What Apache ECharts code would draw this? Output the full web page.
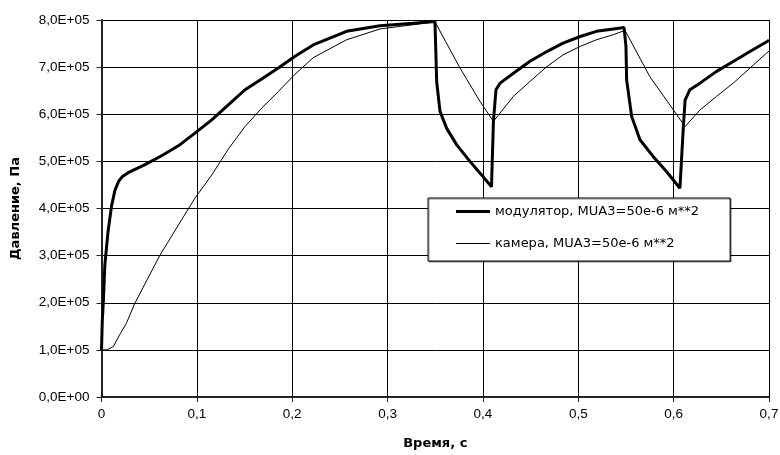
<!DOCTYPE html>
<html>
<head>
<meta charset="utf-8">
<script src="https://cdn.jsdelivr.net/npm/echarts@6/dist/echarts.min.js"></script>
<style>
  html, body { margin: 0; padding: 0; background: #fff; }
  #chart { width: 780px; height: 455px; }
</style>
</head>
<body>
<div id="chart"></div>
<script>
// модулятор (thick line), time in s, pressure in Pa
const modTime = [0, 0.0008, 0.002, 0.0035, 0.0068, 0.0105, 0.014, 0.018, 0.022, 0.028, 0.0456, 0.063, 0.0806, 0.098,
  0.1156, 0.133, 0.1505, 0.168, 0.1854, 0.203, 0.222, 0.257, 0.292, 0.327, 0.3497,
  0.3505, 0.3515, 0.355, 0.362, 0.3725, 0.3864, 0.397, 0.409,
  0.411, 0.4137, 0.418, 0.432, 0.449, 0.467, 0.484, 0.502, 0.519, 0.537, 0.548,
  0.55, 0.5507, 0.556, 0.5647, 0.5787, 0.5927, 0.6066, 0.6084,
  0.61, 0.612, 0.617, 0.6276, 0.645, 0.6625, 0.68, 0.6976, 0.7];
const modPressure = [1.0e5, 1.6e5, 2.05e5, 2.8e5, 3.5e5, 4.05e5, 4.38e5, 4.58e5, 4.68e5, 4.76e5, 4.93e5, 5.12e5, 5.33e5, 5.6e5,
  5.88e5, 6.2e5, 6.52e5, 6.75e5, 6.98e5, 7.23e5, 7.47e5, 7.76e5, 7.88e5, 7.93e5, 7.97e5,
  7.4e5, 6.69e5, 6.06e5, 5.7e5, 5.35e5, 5.0e5, 4.75e5, 4.46e5,
  5.85e5, 6.52e5, 6.66e5, 6.87e5, 7.12e5, 7.33e5, 7.51e5, 7.65e5, 7.76e5, 7.81e5, 7.84e5,
  7.44e5, 6.73e5, 5.95e5, 5.46e5, 5.1e5, 4.78e5, 4.43e5, 4.39e5,
  5.67e5, 6.3e5, 6.52e5, 6.66e5, 6.91e5, 7.12e5, 7.33e5, 7.54e5, 7.57e5];

// камера (thin line)
const camTime = [0, 0.0055, 0.0124, 0.019, 0.026, 0.035, 0.061, 0.084, 0.098, 0.1156, 0.133, 0.1505, 0.168, 0.1854,
  0.203, 0.222, 0.257, 0.292, 0.327, 0.3497, 0.376, 0.397, 0.411,
  0.432, 0.449, 0.467, 0.484, 0.502, 0.519, 0.537, 0.549, 0.575, 0.612,
  0.6276, 0.645, 0.6625, 0.68, 0.6976, 0.7];
const camPressure = [1.0e5, 1.0e5, 1.07e5, 1.32e5, 1.56e5, 1.99e5, 3.0e5, 3.76e5, 4.22e5, 4.71e5, 5.26e5, 5.74e5, 6.13e5, 6.48e5,
  6.85e5, 7.2e5, 7.58e5, 7.81e5, 7.9e5, 7.96e5, 6.98e5, 6.27e5, 5.85e5,
  6.38e5, 6.69e5, 7.01e5, 7.26e5, 7.44e5, 7.58e5, 7.69e5, 7.78e5, 6.8e5, 5.74e5,
  6.09e5, 6.38e5, 6.66e5, 6.98e5, 7.3e5, 7.34e5];

const yTickLabels = ["0,0E+00", "1,0E+05", "2,0E+05", "3,0E+05", "4,0E+05", "5,0E+05", "6,0E+05", "7,0E+05", "8,0E+05"];
const xTickLabels = ["0", "0,1", "0,2", "0,3", "0,4", "0,5", "0,6", "0,7"];

const seriesNames = ["модулятор, MUA3=50e-6 м**2", "камера, MUA3=50e-6 м**2"];

const zip = (xs, ys) => xs.map((x, i) => [x, ys[i]]);

const chart = echarts.init(document.getElementById("chart"));

chart.setOption({
  animation: false,
  backgroundColor: "#fff",
  textStyle: { fontFamily: "Liberation Sans, Arial, sans-serif", color: "#000" },
  grid: { left: 101.5, right: 11, top: 20, bottom: 58, outerBoundsMode: "none" },
  legend: {
    orient: "vertical",
    left: 428,
    top: 198,
    padding: [7, 31, 11, 28],
    itemGap: 19,
    itemWidth: 34,
    itemHeight: 14,
    backgroundColor: "#fff",
    borderColor: "#000",
    borderWidth: 1,
    shadowColor: "rgba(0,0,0,0.45)",
    shadowOffsetX: 1,
    shadowOffsetY: 1,
    textStyle: { fontFamily: "DejaVu Sans", fontSize: 13, color: "#000" },
    data: [
      { name: seriesNames[0], icon: "path://M0 0H34V3H0Z" },
      { name: seriesNames[1], icon: "path://M0 0H34V1H0Z" }
    ]
  },
  xAxis: {
    type: "value",
    min: 0,
    max: 0.7,
    interval: 0.1,
    name: "Время, с",
    nameLocation: "middle",
    nameGap: 40,
    nameTextStyle: { fontFamily: "DejaVu Sans", fontWeight: "bold", fontSize: 13, color: "#000" },
    axisLine: { lineStyle: { color: "#222", width: 2 } },
    axisTick: { show: true, length: 5, lineStyle: { color: "#222" } },
    axisLabel: {
      fontSize: 13.5,
      color: "#000",
      margin: 10,
      formatter: (v) => xTickLabels[Math.round(v * 10)]
    },
    splitLine: { show: true, lineStyle: { color: "#000", width: 1 } }
  },
  yAxis: {
    type: "value",
    min: 0,
    max: 8e5,
    interval: 1e5,
    name: "Давление, Па",
    nameLocation: "middle",
    nameGap: 79,
    nameTextStyle: { fontFamily: "DejaVu Sans", fontWeight: "bold", fontSize: 13, color: "#000" },
    axisLine: { show: true, lineStyle: { color: "#222", width: 2 } },
    axisTick: { show: true, length: 5, lineStyle: { color: "#222" } },
    axisLabel: {
      fontSize: 13.5,
      color: "#000",
      margin: 12,
      formatter: (v) => yTickLabels[Math.round(v / 1e5)]
    },
    splitLine: { show: true, lineStyle: { color: "#000", width: 1 } }
  },
  series: [
    {
      name: seriesNames[0],
      type: "line",
      symbol: "none",
      lineStyle: { color: "#000", width: 3 },
      itemStyle: { color: "#000" },
      data: zip(modTime, modPressure)
    },
    {
      name: seriesNames[1],
      type: "line",
      symbol: "none",
      lineStyle: { color: "#000", width: 1 },
      itemStyle: { color: "#000" },
      data: zip(camTime, camPressure)
    }
  ]
});
</script>
</body>
</html>
